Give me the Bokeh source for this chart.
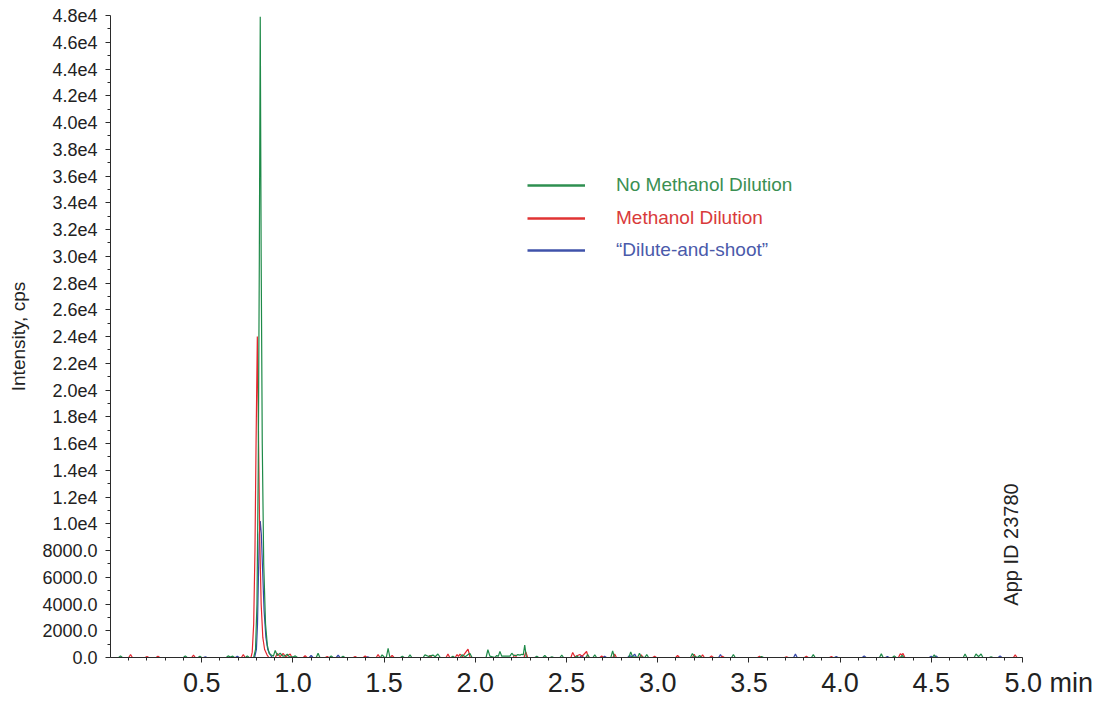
from math import pi
from bokeh.plotting import figure
from bokeh.models import FixedTicker, Label, Legend, LegendItem, ColumnDataSource
from bokeh.embed import file_html
from bokeh.resources import INLINE

# ---------------- data (time in min, intensity in cps) ----------------
green_pts = [
    (0.0, 0), (0.045, 0), (0.055, 120), (0.065, 0), (0.40, 0), (0.41, 120), (0.42, 0),
    (0.48, 0), (0.49, 100), (0.50, 0), (0.635, 0), (0.645, 120), (0.657, 30), (0.67, 100),
    (0.68, 0), (0.74, 0), (0.75, 120), (0.76, 0),
    (0.785, 0), (0.795, 600), (0.803, 4000), (0.810, 14000), (0.816, 30000), (0.821, 47900),
    (0.826, 30000), (0.832, 16000), (0.840, 7000), (0.850, 2500), (0.860, 900), (0.870, 300),
    (0.880, 200), (0.893, 100), (0.903, 520), (0.915, 150), (0.93, 320), (0.945, 100),
    (0.957, 120), (0.969, 250), (0.98, 60), (1.00, 40), (1.013, 120), (1.025, 0),
    (1.128, 0), (1.138, 320), (1.148, 0), (1.20, 0), (1.21, 120), (1.22, 0),
    (1.265, 0), (1.275, 90), (1.285, 0), (1.48, 0), (1.489, 200), (1.50, 40), (1.512, 0),
    (1.522, 680), (1.532, 0), (1.59, 0), (1.60, 100), (1.61, 0), (1.632, 0), (1.642, 200),
    (1.652, 0), (1.714, 0), (1.724, 200), (1.745, 80), (1.768, 180), (1.78, 60),
    (1.795, 260), (1.808, 0), (1.867, 0), (1.877, 100), (1.887, 0), (1.917, 0),
    (1.927, 200), (1.945, 60), (1.97, 320), (1.982, 0), (2.059, 0), (2.069, 580),
    (2.08, 100), (2.108, 0), (2.118, 160), (2.126, 80), (2.135, 460), (2.145, 100),
    (2.19, 100), (2.20, 320), (2.21, 150), (2.225, 150), (2.233, 220), (2.245, 180),
    (2.255, 240), (2.263, 200), (2.271, 920), (2.28, 0), (2.327, 0), (2.337, 100),
    (2.347, 0), (2.371, 0), (2.381, 160), (2.391, 0), (2.41, 0), (2.42, 60), (2.43, 0),
    (2.464, 0), (2.474, 180), (2.484, 0), (2.546, 0), (2.556, 120), (2.566, 0),
    (2.606, 0), (2.616, 220), (2.626, 0), (2.645, 0), (2.655, 200), (2.665, 0),
    (2.743, 0), (2.753, 500), (2.763, 0), (2.842, 0), (2.852, 420), (2.862, 60),
    (2.89, 0), (2.90, 320), (2.91, 40), (2.93, 0), (2.94, 220), (2.95, 0),
    (3.18, 0), (3.19, 300), (3.20, 80), (3.22, 0), (3.23, 160), (3.24, 0),
    (3.405, 0), (3.415, 220), (3.425, 0), (3.56, 0), (3.57, 80), (3.58, 0),
    (3.843, 0), (3.853, 220), (3.863, 0), (4.216, 0), (4.226, 270), (4.236, 0),
    (4.287, 0), (4.297, 120), (4.307, 0), (4.33, 0), (4.34, 150), (4.35, 0),
    (4.506, 0), (4.516, 200), (4.526, 0), (4.675, 0), (4.685, 260), (4.695, 0),
    (4.735, 0), (4.745, 260), (4.759, 60), (4.773, 260), (4.783, 0), (4.818, 0),
    (4.828, 60), (4.838, 0), (5.0, 0),
]

red_pts = [
    (0.0, 0), (0.10, 0), (0.11, 220), (0.12, 0), (0.19, 0), (0.20, 80), (0.21, 0),
    (0.25, 0), (0.26, 100), (0.27, 0), (0.445, 0), (0.455, 180), (0.465, 0),
    (0.718, 0), (0.728, 220), (0.738, 0),
    (0.770, 0), (0.777, 400), (0.785, 2500), (0.792, 8000), (0.798, 16000), (0.805, 24000),
    (0.811, 17000), (0.818, 9000), (0.826, 4000), (0.835, 1500), (0.845, 600),
    (0.858, 200), (0.868, 0), (0.904, 0), (0.914, 300), (0.93, 60), (0.947, 300),
    (0.96, 60), (0.985, 260), (0.995, 0), (1.057, 0), (1.067, 130), (1.077, 0),
    (1.178, 0), (1.188, 80), (1.198, 0), (1.331, 0), (1.341, 70), (1.351, 0),
    (1.386, 0), (1.396, 110), (1.406, 0), (1.457, 0), (1.467, 220), (1.477, 0),
    (1.534, 0), (1.544, 160), (1.554, 0), (1.742, 0), (1.752, 160), (1.762, 0),
    (1.84, 0), (1.85, 260), (1.86, 0), (1.89, 0), (1.90, 220), (1.908, 80),
    (1.916, 250), (1.93, 60), (1.96, 620), (1.972, 0), (2.207, 0), (2.217, 200),
    (2.227, 0), (2.267, 0), (2.277, 420), (2.287, 0), (2.524, 0), (2.534, 380),
    (2.546, 60), (2.573, 230), (2.585, 80), (2.61, 450), (2.62, 0), (2.683, 0),
    (2.693, 110), (2.703, 0), (2.754, 0), (2.764, 250), (2.774, 0), (2.90, 0),
    (2.91, 200), (2.92, 0), (2.973, 0), (2.983, 100), (2.993, 0), (3.099, 0),
    (3.109, 150), (3.119, 0), (3.19, 0), (3.20, 240), (3.21, 0), (3.236, 0),
    (3.246, 200), (3.256, 0), (3.285, 0), (3.295, 120), (3.305, 0), (3.345, 0),
    (3.355, 100), (3.365, 0), (3.548, 0), (3.558, 100), (3.568, 0), (3.696, 0),
    (3.706, 60), (3.716, 0), (3.805, 0), (3.815, 90), (3.825, 0), (3.942, 0),
    (3.952, 70), (3.962, 0), (4.32, 0), (4.33, 280), (4.337, 200), (4.345, 300),
    (4.355, 0), (4.95, 0), (4.96, 200), (4.97, 0), (5.0, 0),
]

blue_pts = [
    (0.0, 0), (0.51, 0), (0.52, 60), (0.53, 0), (0.685, 0), (0.695, 100), (0.705, 0),
    (0.790, 0), (0.800, 600), (0.806, 2500), (0.811, 6000), (0.816, 9200), (0.821, 10200),
    (0.827, 9200), (0.834, 6500), (0.842, 3500), (0.852, 1500), (0.862, 600),
    (0.874, 250), (0.886, 0), (1.09, 0), (1.10, 160), (1.11, 0), (1.238, 0),
    (1.248, 170), (1.258, 0), (1.40, 0), (1.41, 60), (1.42, 0), (2.573, 0),
    (2.583, 150), (2.593, 0), (2.699, 0), (2.709, 100), (2.719, 0), (2.836, 0),
    (2.846, 150), (2.858, 40), (2.874, 250), (2.884, 0), (3.334, 0), (3.344, 220),
    (3.354, 0), (3.745, 0), (3.755, 250), (3.765, 0), (3.969, 0), (3.979, 70),
    (3.989, 0), (4.122, 0), (4.132, 120), (4.142, 0), (4.249, 0), (4.259, 80),
    (4.269, 0), (4.489, 0), (4.499, 100), (4.509, 0), (4.516, 0), (4.526, 120),
    (4.536, 0), (4.867, 0), (4.877, 120), (4.887, 0), (5.0, 0),
]

series_names = ["No Methanol Dilution", "Methanol Dilution", "\u201cDilute-and-shoot\u201d"]
line_colors = ["#1e8a48", "#e3262e", "#3446a8"]
legend_line_colors = ["#2e8f50", "#e03333", "#3f52aa"]
text_colors = ["#3a8f52", "#d93a3a", "#4a5aaa"]

x_ticks = [0.5, 1.0, 1.5, 2.0, 2.5, 3.0, 3.5, 4.0, 4.5, 5.0]
NB = "\u00a0"
x_tick_labels = ["0.5", "1.0", "1.5", "2.0", "2.5", "3.0", "3.5", "4.0", "4.5",
                 NB * 7 + "5.0" + NB + "min"]
y_ticks = [0, 2000, 4000, 6000, 8000, 10000, 12000, 14000, 16000, 18000, 20000,
           22000, 24000, 26000, 28000, 30000, 32000, 34000, 36000, 38000, 40000,
           42000, 44000, 46000, 48000]
y_tick_labels = ["0.0", "2000.0", "4000.0", "6000.0", "8000.0", "1.0e4", "1.2e4",
                 "1.4e4", "1.6e4", "1.8e4", "2.0e4", "2.2e4", "2.4e4", "2.6e4",
                 "2.8e4", "3.0e4", "3.2e4", "3.4e4", "3.6e4", "3.8e4", "4.0e4",
                 "4.2e4", "4.4e4", "4.6e4", "4.8e4"]

FONT = "Liberation Sans"
AX = "#2b2b2b"
TXT = "#222222"

p = figure(width=1100, height=700, x_range=(0, 5.0), y_range=(0, 48000),
           output_backend="svg", toolbar_location=None,
           min_border_left=110, min_border_right=78, min_border_top=15,
           min_border_bottom=38)
p.outline_line_color = None
p.grid.visible = False
p.background_fill_color = "white"

sources = [ColumnDataSource(dict(t=[a for a, b in pts], v=[b for a, b in pts]))
           for pts in (green_pts, red_pts, blue_pts)]

p.line("t", "v", source=sources[2], line_color=line_colors[2], line_width=1.2)
p.line("t", "v", source=sources[1], line_color=line_colors[1], line_width=1.2)
p.line("t", "v", source=sources[0], line_color=line_colors[0], line_width=1.2)

# axes
xa = p.xaxis[0]
xa.ticker = FixedTicker(ticks=x_ticks, minor_ticks=[round(0.1 * i, 1) for i in range(1, 50)])
xa.major_label_overrides = dict(zip(x_ticks, x_tick_labels))
xa.major_label_text_font = FONT
xa.major_label_text_font_size = "27px"
xa.major_label_text_color = TXT
xa.major_label_standoff = 5
xa.major_tick_in = 0
xa.major_tick_out = 5
xa.minor_tick_in = 0
xa.minor_tick_out = 3
xa.axis_line_color = AX
xa.major_tick_line_color = AX
xa.minor_tick_line_color = AX

ya = p.yaxis[0]
ya.ticker = FixedTicker(ticks=y_ticks, minor_ticks=[1000 * i for i in range(1, 48, 2)])
ya.major_label_overrides = dict(zip(y_ticks, y_tick_labels))
ya.major_label_text_font = FONT
ya.major_label_text_font_size = "18px"
ya.major_label_text_color = TXT
ya.major_label_standoff = 8
ya.major_tick_in = 0
ya.major_tick_out = 5
ya.minor_tick_in = 0
ya.minor_tick_out = 3
ya.axis_line_color = AX
ya.major_tick_line_color = AX
ya.minor_tick_line_color = AX
ya.axis_label = "Intensity, cps"
ya.axis_label_text_font = FONT
ya.axis_label_text_font_size = "19px"
ya.axis_label_text_font_style = "normal"
ya.axis_label_text_color = TXT
ya.axis_label_standoff = 10

# App ID label (rotated)
p.add_layout(Label(x=5.0, y=8450, x_offset=-12, text="App ID 23780", angle=pi / 2,
                   text_font=FONT, text_font_size="20px", text_color=TXT,
                   text_baseline="middle", text_align="center"))

# legend: one per entry so each label gets its own colour
leg_y = [461, 428, 396]
for name, lc, tc, ly in zip(series_names, legend_line_colors, text_colors, leg_y):
    proxy = p.line(x=[float("nan")], y=[float("nan")], line_color=lc, line_width=2.5)
    lg = Legend(items=[LegendItem(label=name, renderers=[proxy])], location=(417, ly),
                glyph_width=58, glyph_height=20, label_standoff=31, padding=0, margin=0,
                border_line_color=None, background_fill_alpha=0,
                label_text_font=FONT, label_text_font_size="19px", label_text_color=tc,
                label_height=20)
    p.add_layout(lg, "center")

open("out.html", "w").write(file_html(p, INLINE))
